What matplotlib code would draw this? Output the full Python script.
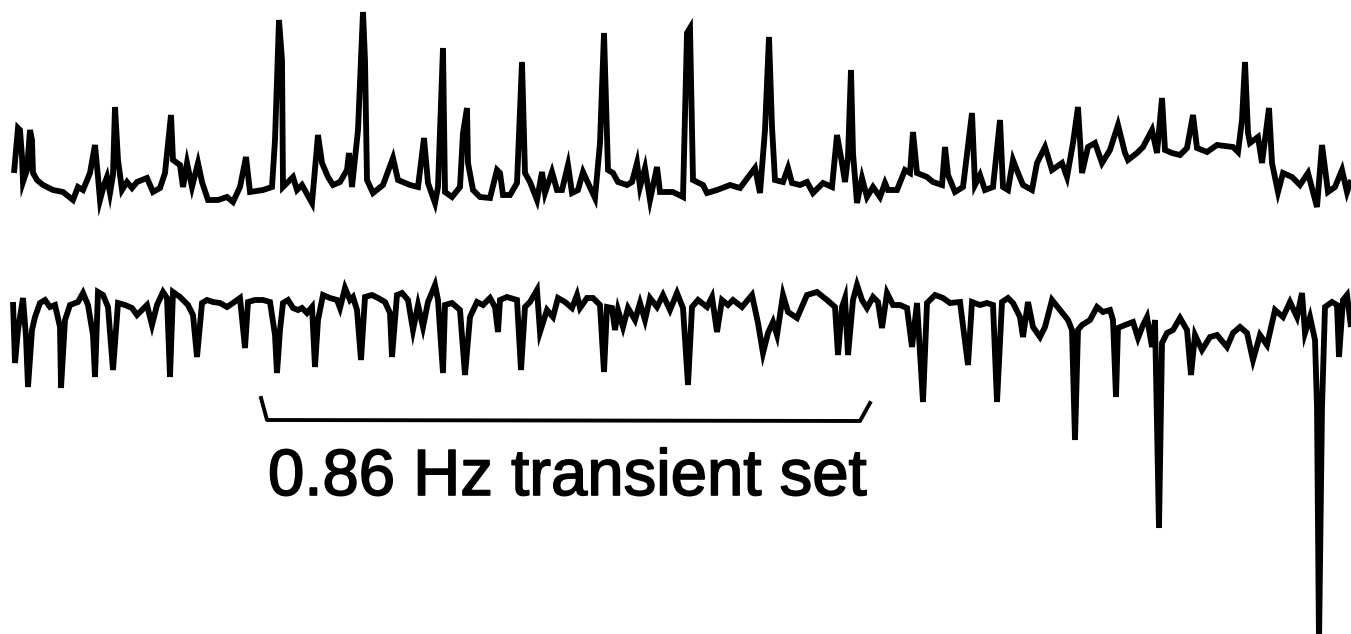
import matplotlib
matplotlib.use("Agg")
import matplotlib.pyplot as plt
import matplotlib.patheffects as pe

# upper trace: sample time, amplitude
top_t = [14, 18, 20, 22, 23, 27, 30, 32, 33, 37, 43, 53, 63, 73, 78, 83, 90, 95, 98, 100,
         104, 107, 110, 113, 115, 118, 122, 127, 132, 137, 147, 153, 160, 165, 171, 173, 180, 183, 187, 192,
         198, 202, 208, 218, 227, 233, 240, 246, 250, 263, 272, 275, 279, 282, 283, 290, 293, 297, 302, 312,
         318, 322, 328, 333, 340, 347, 349, 352, 358, 363, 365, 367, 373, 383, 393, 398, 410, 418, 424, 428,
         435, 438, 443, 445, 452, 460, 463, 467, 468, 473, 480, 490, 497, 500, 503, 510, 517, 522, 525, 530,
         537, 542, 545, 552, 557, 562, 568, 572, 578, 583, 588, 595, 600, 604, 608, 613, 618, 627, 632, 637,
         640, 645, 650, 657, 660, 673, 683, 687, 690, 693, 703, 707, 717, 730, 740, 755, 760, 765, 769, 772,
         775, 783, 788, 792, 800, 807, 813, 823, 832, 837, 842, 845, 848, 851, 853, 857, 862, 867, 873, 880,
         885, 888, 897, 905, 910, 913, 917, 927, 933, 942, 945, 948, 955, 963, 972, 975, 980, 985, 993, 1000,
         1003, 1008, 1013, 1018, 1023, 1032, 1037, 1045, 1052, 1062, 1067, 1073, 1078, 1082, 1088, 1095, 1102, 1110, 1118, 1125,
         1128, 1137, 1143, 1152, 1157, 1162, 1165, 1172, 1180, 1187, 1193, 1197, 1207, 1217, 1233, 1238, 1242, 1245, 1248, 1250,
         1258, 1262, 1269, 1272, 1278, 1283, 1292, 1300, 1308, 1317, 1322, 1328, 1335, 1342, 1347, 1351]
top_v = [27, 72, 70, 43, 18, 30, 70, 60, 27, 20, 15, 10, 8, 0, 13, 10, 27, 55, 23, 0,
         15, 23, 7, 25, 93, 40, 10, 18, 12, 18, 22, 8, 12, 27, 85, 40, 35, 13, 37, 13,
         37, 18, 0, 0, 3, -2, 13, 43, 8, 10, 13, 60, 180, 140, 13, 20, 23, 10, 15, -3,
         65, 37, 23, 15, 18, 30, 47, 13, 70, 188, 140, 20, 7, 15, 42, 20, 15, 13, 62, 17,
         -3, 13, 152, 8, 3, 13, 67, 92, 37, 10, 3, 2, 30, 27, 5, 5, 17, 138, 27, 18,
         0, 28, 7, 28, 10, 10, 35, 7, 10, 28, 17, 2, 57, 167, 30, 27, 18, 15, 18, 37,
         13, 32, 0, 33, 8, 8, 3, 167, 172, 20, 15, 7, 10, 15, 12, 32, 7, 70, 163, 73,
         20, 18, 32, 17, 15, 18, 7, 17, 13, 65, 37, 18, 43, 130, 47, -3, 22, 3, 13, 3,
         17, 10, 10, 30, 27, 68, 27, 23, 18, 15, 53, 25, 8, 13, 87, 15, 25, 10, 13, 80,
         13, 10, 40, 27, 15, 10, 37, 53, 30, 37, 23, 57, 93, 27, 53, 57, 37, 50, 75, 47,
         40, 47, 53, 70, 47, 102, 50, 47, 45, 52, 85, 52, 48, 55, 53, 48, 80, 138, 67, 57,
         63, 37, 92, 37, 8, 27, 23, 15, 27, -7, 55, 8, 13, 30, 8, 20]

# lower trace: sample time, amplitude
bot_t = [13, 15, 18, 23, 26, 28, 32, 35, 40, 45, 50, 55, 60, 61, 65, 70, 78, 83, 88, 93,
         95, 98, 103, 108, 113, 118, 125, 132, 137, 142, 147, 152, 157, 163, 167, 170, 173, 180, 188, 193,
         197, 202, 207, 213, 220, 227, 233, 240, 245, 248, 255, 263, 270, 275, 277, 280, 283, 288, 293, 298,
         302, 307, 312, 315, 318, 323, 330, 337, 340, 345, 350, 353, 357, 361, 365, 372, 378, 385, 390, 392,
         397, 402, 408, 413, 418, 423, 428, 435, 438, 443, 445, 452, 460, 465, 470, 477, 483, 490, 495, 498,
         500, 507, 517, 521, 525, 530, 537, 540, 547, 553, 558, 565, 572, 577, 580, 587, 593, 600, 604, 607,
         612, 615, 618, 623, 628, 635, 640, 645, 650, 657, 663, 670, 677, 683, 688, 692, 698, 707, 712, 717,
         722, 728, 733, 742, 752, 758, 763, 768, 773, 777, 783, 788, 797, 807, 817, 827, 835, 838, 842, 845,
         848, 853, 857, 862, 867, 873, 878, 882, 887, 893, 900, 907, 912, 917, 923, 927, 935, 943, 950, 960,
         968, 972, 980, 987, 993, 997, 1002, 1008, 1013, 1020, 1023, 1028, 1033, 1040, 1045, 1052, 1060, 1068, 1072, 1075,
         1078, 1082, 1090, 1097, 1103, 1110, 1113, 1116, 1118, 1125, 1133, 1138, 1143, 1147, 1152, 1155, 1159, 1162, 1167, 1173,
         1180, 1187, 1191, 1195, 1202, 1210, 1217, 1227, 1233, 1240, 1247, 1253, 1260, 1267, 1275, 1283, 1290, 1297, 1302, 1305,
         1310, 1315, 1317, 1319, 1322, 1325, 1332, 1337, 1339, 1343, 1347, 1351]
bot_v = [-2, -63, -30, 2, -37, -87, -30, -17, -3, 0, -7, -5, -27, -88, -20, -5, -2, 7, -5, -35,
         -77, 8, 5, -7, -70, -3, -5, -8, -15, -10, -5, -25, -5, 8, 2, -77, 8, 3, -5, -15,
         -57, -3, 0, -2, -3, -7, -3, 2, -48, -2, 0, 0, -2, -35, -73, -30, -3, 0, -8, -10,
         -8, -13, -7, -67, -20, 5, 2, 0, -8, 12, 0, 3, -10, -60, 3, 5, 2, -2, -13, -57,
         5, 7, 0, -30, -5, -27, -2, 15, 0, -73, -5, -3, -10, -75, -17, -2, -5, 2, -7, -32,
         0, 3, 0, -70, -7, -2, 10, -32, -10, -17, 2, -2, -8, 5, -8, 2, 2, -5, -72, -7,
         -8, -30, -10, -27, -8, -20, -3, -20, 2, -7, 5, -10, 7, -8, -85, -7, 0, -7, 3, -32,
         0, -5, 0, -7, 5, -23, -53, -33, -22, -35, 5, -12, -18, 5, 8, 0, -7, -55, -7, 2,
         -55, 0, 15, 0, -8, 3, -2, -28, 7, -5, -5, -8, -47, -3, -102, -3, 5, 2, -3, -2,
         -65, -2, -5, -3, -5, -102, -2, 2, -3, -17, -37, -2, -27, -37, -27, 0, -10, -20, -30, -140,
         -30, -25, -20, -7, -12, -10, -20, -97, -28, -25, -22, -38, -25, -17, -47, -20, -228, -43, -33, -30,
         -18, -30, -75, -35, -50, -37, -35, -47, -33, -27, -33, -60, -35, -45, -10, -17, -2, -17, 7, -33,
         -17, -40, -107, -345, -107, -7, -2, -5, -57, 0, 5, -27]

# time bar under the 0.86 Hz set
bar_t = [261, 267, 860, 870]
bar_v = [-98, -120, -121, -103]
label = "0.86 Hz transient set"

top_offset = 100

fig = plt.figure(figsize=(13.51, 6.34), dpi=100)
ax = fig.add_axes([0, 0, 1, 1])
ax.plot(top_t, [v + top_offset for v in top_v], color="black", lw=4.2,
        solid_joinstyle="miter", solid_capstyle="butt")
ax.plot(bot_t, bot_v, color="black", lw=4.2,
        solid_joinstyle="miter", solid_capstyle="butt")
ax.plot(bar_t, bar_v, color="black", lw=2.8)
ax.text(268, -195, label, fontsize=47, family="Liberation Sans",
        ha="left", va="baseline",
        path_effects=[pe.withStroke(linewidth=1.2, foreground="black")])
ax.set_xlim(0, 1351)
ax.set_ylim(-334, 300)
ax.axis("off")
fig.savefig("out.png", dpi=100)
